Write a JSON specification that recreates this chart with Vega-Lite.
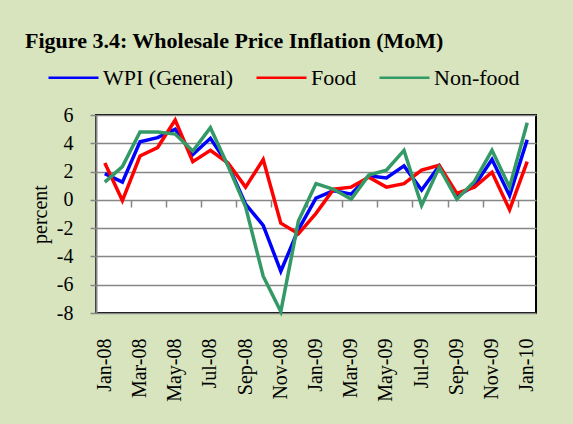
{
  "$schema": "https://vega.github.io/schema/vega-lite/v6.json",
  "width": 440,
  "height": 198,
  "autosize": {"type": "none"},
  "padding": {"left": 96, "top": 115, "right": 37, "bottom": 111},
  "background": "#D7E4BD",
  "config": {
    "font": "Liberation Serif",
    "view": {"stroke": "#000000", "strokeWidth": 2, "fill": "#FFFFFF"},
    "axis": {"labelOverlap": false, "labelBound": false, "labelFlush": false, "labelFont": "Liberation Serif", "titleFont": "Liberation Serif"},
    "legend": {"labelFont": "Liberation Serif", "labelOverlap": false}
  },
  "title": {
    "text": "Figure 3.4: Wholesale Price Inflation (MoM)",
    "font": "Liberation Serif",
    "fontSize": 22,
    "fontWeight": "bold",
    "color": "#000000",
    "anchor": "start",
    "frame": "group",
    "dx": -71,
    "offset": 40,
    "dy": 42
  },
  "data": {
    "values": [
      {"month": "Jan-08", "series": "WPI (General)", "value": 1.85},
      {"month": "Feb-08", "series": "WPI (General)", "value": 1.25},
      {"month": "Mar-08", "series": "WPI (General)", "value": 4.1},
      {"month": "Apr-08", "series": "WPI (General)", "value": 4.4},
      {"month": "May-08", "series": "WPI (General)", "value": 5.0},
      {"month": "Jun-08", "series": "WPI (General)", "value": 3.2},
      {"month": "Jul-08", "series": "WPI (General)", "value": 4.35},
      {"month": "Aug-08", "series": "WPI (General)", "value": 2.5},
      {"month": "Sep-08", "series": "WPI (General)", "value": -0.3},
      {"month": "Oct-08", "series": "WPI (General)", "value": -1.8},
      {"month": "Nov-08", "series": "WPI (General)", "value": -5.05},
      {"month": "Dec-08", "series": "WPI (General)", "value": -2.1},
      {"month": "Jan-09", "series": "WPI (General)", "value": 0.12},
      {"month": "Feb-09", "series": "WPI (General)", "value": 0.65},
      {"month": "Mar-09", "series": "WPI (General)", "value": 0.4},
      {"month": "Apr-09", "series": "WPI (General)", "value": 1.7},
      {"month": "May-09", "series": "WPI (General)", "value": 1.55},
      {"month": "Jun-09", "series": "WPI (General)", "value": 2.4},
      {"month": "Jul-09", "series": "WPI (General)", "value": 0.7},
      {"month": "Aug-09", "series": "WPI (General)", "value": 2.4},
      {"month": "Sep-09", "series": "WPI (General)", "value": 0.25},
      {"month": "Oct-09", "series": "WPI (General)", "value": 1.0},
      {"month": "Nov-09", "series": "WPI (General)", "value": 2.85},
      {"month": "Dec-09", "series": "WPI (General)", "value": 0.3},
      {"month": "Jan-10", "series": "WPI (General)", "value": 4.25},
      {"month": "Jan-08", "series": "Food", "value": 2.6},
      {"month": "Feb-08", "series": "Food", "value": -0.05},
      {"month": "Mar-08", "series": "Food", "value": 3.1},
      {"month": "Apr-08", "series": "Food", "value": 3.7},
      {"month": "May-08", "series": "Food", "value": 5.65},
      {"month": "Jun-08", "series": "Food", "value": 2.7},
      {"month": "Jul-08", "series": "Food", "value": 3.5},
      {"month": "Aug-08", "series": "Food", "value": 2.6},
      {"month": "Sep-08", "series": "Food", "value": 0.9},
      {"month": "Oct-08", "series": "Food", "value": 2.85},
      {"month": "Nov-08", "series": "Food", "value": -1.65},
      {"month": "Dec-08", "series": "Food", "value": -2.4},
      {"month": "Jan-09", "series": "Food", "value": -0.95},
      {"month": "Feb-09", "series": "Food", "value": 0.75},
      {"month": "Mar-09", "series": "Food", "value": 0.9},
      {"month": "Apr-09", "series": "Food", "value": 1.6},
      {"month": "May-09", "series": "Food", "value": 0.9},
      {"month": "Jun-09", "series": "Food", "value": 1.15},
      {"month": "Jul-09", "series": "Food", "value": 2.1},
      {"month": "Aug-09", "series": "Food", "value": 2.45},
      {"month": "Sep-09", "series": "Food", "value": 0.45},
      {"month": "Oct-09", "series": "Food", "value": 0.9},
      {"month": "Nov-09", "series": "Food", "value": 1.95},
      {"month": "Dec-09", "series": "Food", "value": -0.7},
      {"month": "Jan-10", "series": "Food", "value": 2.7},
      {"month": "Jan-08", "series": "Non-food", "value": 1.25},
      {"month": "Feb-08", "series": "Non-food", "value": 2.35},
      {"month": "Mar-08", "series": "Non-food", "value": 4.8},
      {"month": "Apr-08", "series": "Non-food", "value": 4.8},
      {"month": "May-08", "series": "Non-food", "value": 4.65},
      {"month": "Jun-08", "series": "Non-food", "value": 3.45},
      {"month": "Jul-08", "series": "Non-food", "value": 5.1},
      {"month": "Aug-08", "series": "Non-food", "value": 2.4},
      {"month": "Sep-08", "series": "Non-food", "value": -0.5},
      {"month": "Oct-08", "series": "Non-food", "value": -5.4},
      {"month": "Nov-08", "series": "Non-food", "value": -7.9},
      {"month": "Dec-08", "series": "Non-food", "value": -1.5},
      {"month": "Jan-09", "series": "Non-food", "value": 1.15},
      {"month": "Feb-09", "series": "Non-food", "value": 0.75},
      {"month": "Mar-09", "series": "Non-food", "value": 0.05},
      {"month": "Apr-09", "series": "Non-food", "value": 1.75},
      {"month": "May-09", "series": "Non-food", "value": 2.1},
      {"month": "Jun-09", "series": "Non-food", "value": 3.5},
      {"month": "Jul-09", "series": "Non-food", "value": -0.4},
      {"month": "Aug-09", "series": "Non-food", "value": 2.3},
      {"month": "Sep-09", "series": "Non-food", "value": 0.05},
      {"month": "Oct-09", "series": "Non-food", "value": 1.3},
      {"month": "Nov-09", "series": "Non-food", "value": 3.5},
      {"month": "Dec-09", "series": "Non-food", "value": 0.9},
      {"month": "Jan-10", "series": "Non-food", "value": 5.45}
    ]
  },
  "encoding": {
    "y": {
      "field": "value", "type": "quantitative",
      "scale": {"domain": [-8, 6], "nice": false, "zero": false},
      "axis": {
        "title": "percent", "titleFontSize": 20, "titleFontWeight": "normal", "titleColor": "#000000",
        "titleFont": "Liberation Serif", "titlePadding": 6,
        "values": [-8, -6, -4, -2, 0, 2, 4, 6],
        "labelExpr": "toString(datum.value)",
        "labelOverlap": false, "labelFlush": false, "labelBound": false,
        "labelFont": "Liberation Serif",
        "labelFontSize": 20, "labelColor": "#000000", "labelPadding": 17,
        "tickSize": 6, "tickColor": "#868686", "tickWidth": 1.5,
        "domainColor": "#868686", "domainWidth": 2,
        "grid": true, "gridColor": "#868686", "gridWidth": 1.5
      }
    }
  },
  "layer": [
    {
      "mark": {"type": "line", "strokeOpacity": 0},
      "encoding": {
        "x": {
          "field": "month", "type": "ordinal", "sort": null,
          "scale": {"type": "band", "paddingInner": 0, "paddingOuter": 0},
          "axis": {
            "orient": "bottom", "offset": -113, "title": null,
            "labels": false, "domain": false, "grid": false,
            "ticks": true, "tickSize": 7, "tickColor": "#868686", "tickWidth": 1.5,
            "bandPosition": 0,
            "values": ["Jan-08","Mar-08","May-08","Jul-08","Sep-08","Nov-08","Jan-09","Mar-09","May-09","Jul-09","Sep-09","Nov-09","Jan-10"]
          }
        },
        "detail": {"field": "series"}
      }
    },
    {
      "mark": {"type": "line", "strokeWidth": 3.5, "strokeJoin": "miter"},
      "encoding": {
        "x": {
          "field": "month", "type": "ordinal", "sort": null,
          "axis": {
            "orient": "bottom", "title": null, "domain": false, "ticks": false, "grid": false,
            "labelAngle": -90, "labelFontSize": 20, "labelColor": "#000000",
            "labelPadding": 25, "labelFont": "Liberation Serif",
            "labelOverlap": false, "labelBound": false, "labelFlush": false,
            "labelExpr": "indexof(['Jan-08','Mar-08','May-08','Jul-08','Sep-08','Nov-08','Jan-09','Mar-09','May-09','Jul-09','Sep-09','Nov-09','Jan-10'], datum.value) >= 0 ? datum.label : ''"
          }
        },
        "color": {
          "field": "series", "type": "nominal",
          "scale": {"domain": ["WPI (General)", "Food", "Non-food"], "range": ["#0000FF", "#FF0000", "#339966"]},
          "legend": {
            "title": null, "orient": "none", "direction": "horizontal",
            "legendX": -49, "legendY": -64,
            "symbolType": "stroke", "symbolSize": 2500, "symbolStrokeWidth": 2.5,
            "labelFontSize": 22, "labelColor": "#000000", "labelFont": "Liberation Serif",
            "labelOffset": 3, "columnPadding": 17
          }
        }
      }
    }
  ],
  "resolve": {"axis": {"x": "independent"}}
}
